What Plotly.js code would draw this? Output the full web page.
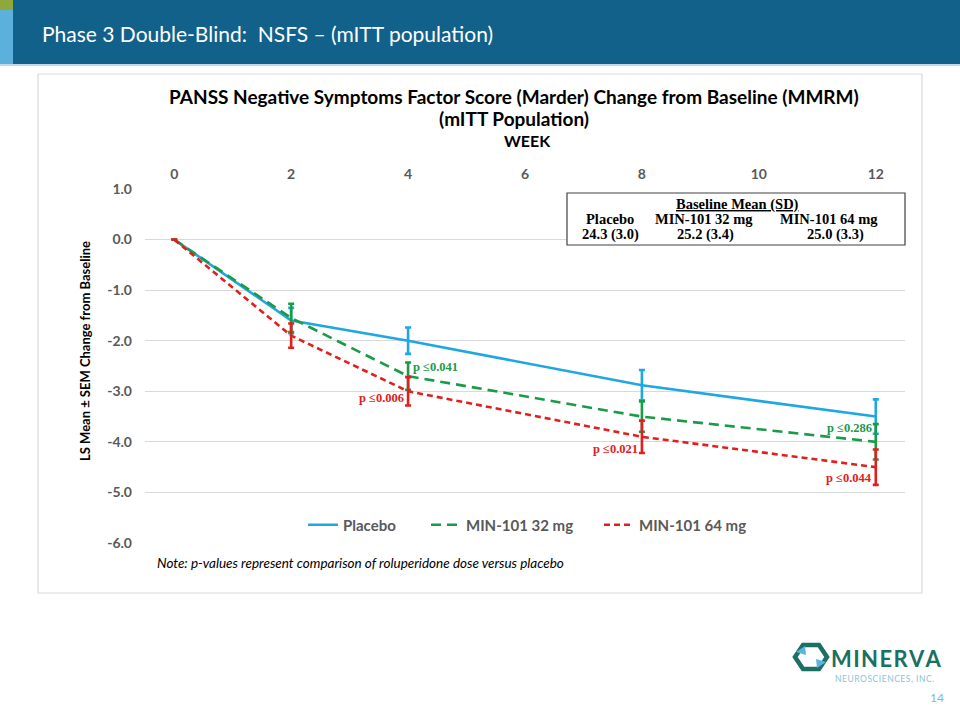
<!DOCTYPE html>
<html>
<head>
<meta charset="utf-8">
<script src="https://cdn.plot.ly/plotly-3.0.1.min.js"></script>
<style>
  html, body { margin: 0; padding: 0; background: #ffffff; }
  #chart { width: 960px; height: 720px; }
</style>
</head>
<body>
<div id="chart"></div>
<script>
// ---- data ----
const weeks = [0, 2, 4, 8, 12];
const weekTicks = [0, 2, 4, 6, 8, 10, 12];
const yTicks = [1, 0, -1, -2, -3, -4, -5, -6];
const yTickText = ["1.0", "0.0", "-1.0", "-2.0", "-3.0", "-4.0", "-5.0", "-6.0"];
const placebo = [0, -1.6, -2.0, -2.88, -3.5];
const placeboSem = [0, 0.25, 0.26, 0.3, 0.34];
const mg32 = [0, -1.55, -2.7, -3.5, -4.0];
const mg32Sem = [0, 0.28, 0.27, 0.3, 0.35];
const mg64 = [0, -1.9, -3.0, -3.9, -4.5];
const mg64Sem = [0, 0.24, 0.28, 0.32, 0.35];
const seriesNames = ["Placebo", "MIN-101 32 mg", "MIN-101 64 mg"];
const baselineGroups = ["Placebo", "MIN-101 32 mg", "MIN-101 64 mg"];
const baselineValues = ["24.3 (3.0)", "25.2 (3.4)", "25.0 (3.3)"];
const pLabels = [
  {week: 4, value: -2.51, text: "p ≤0.041", series: 1, side: "right"},
  {week: 4, value: -3.13, text: "p ≤0.006", series: 2, side: "left"},
  {week: 8, value: -4.14, text: "p ≤0.021", series: 2, side: "left"},
  {week: 12, value: -3.72, text: "p ≤0.286", series: 1, side: "left"},
  {week: 12, value: -4.71, text: "p ≤0.044", series: 2, side: "left"}
];

// ---- style ----
const colors = ["#1ea7e0", "#1a9b48", "#e1201d"];
const W = 960, H = 720;
const M = {l: 145, r: 55, t: 189, b: 177};
const PW = W - M.l - M.r, PH = H - M.t - M.b;
const px = x => (x - M.l) / PW;
const py = y => (H - M.b - y) / PH;
const sans = "Lato, 'Open Sans', sans-serif";
const serif = "'Liberation Serif', 'Times New Roman', serif";
const legendNames = ["legend", "legend2", "legend3"];
const legendX = [303, 426, 599];
const hs = "\u200A";
const spaced = s => s.split("").join(hs);

const traces = [
  {x: weeks, y: placebo, sem: placeboSem, dash: "solid"},
  {x: weeks, y: mg32, sem: mg32Sem, dash: "10px,6px"},
  {x: weeks, y: mg64, sem: mg64Sem, dash: "6px,4px"}
].map((s, i) => ({
  type: "scatter", mode: "lines",
  x: s.x, y: s.y, name: seriesNames[i], legend: legendNames[i],
  line: {color: colors[i], width: 2.6, dash: s.dash},
  error_y: {type: "data", array: s.sem, visible: true, color: colors[i], thickness: 2.6, width: 3},
  hoverinfo: "x+y"
}));

const shapes = [
  // header bar
  {type: "rect", xref: "paper", yref: "paper", x0: px(0), x1: px(960), y0: py(0), y1: py(64), fillcolor: "#12618a", line: {width: 0}, layer: "below"},
  {type: "rect", xref: "paper", yref: "paper", x0: px(0), x1: px(13), y0: py(0), y1: py(64), fillcolor: "#5cb1dc", line: {width: 0}, layer: "below"},
  {type: "rect", xref: "paper", yref: "paper", x0: px(0), x1: px(13), y0: py(0), y1: py(10), fillcolor: "#8ea83c", line: {width: 0}, layer: "below"},
  {type: "line", xref: "paper", yref: "paper", x0: px(0), x1: px(960), y0: py(65), y1: py(65), line: {color: "#a9cfe2", width: 1.5}, layer: "below"},
  // chart frame
  {type: "rect", xref: "paper", yref: "paper", x0: px(38), x1: px(922), y0: py(74), y1: py(593), fillcolor: "rgba(0,0,0,0)", line: {color: "#d9d9d9", width: 1.2}, layer: "below"},
  // baseline table box
  {type: "rect", xref: "paper", yref: "paper", x0: px(567), x1: px(905), y0: py(193), y1: py(245), fillcolor: "#ffffff", line: {color: "#404040", width: 1.2}, layer: "above"},
  // logo hexagon ring
  {type: "path", xref: "paper", yref: "paper",
   path: "M " + px(803) + "," + py(645) + " L " + px(819) + "," + py(645) + " L " + px(827) + "," + py(657) + " L " + px(819) + "," + py(669) + " L " + px(803) + "," + py(669) + " L " + px(795) + "," + py(657) + " Z",
   fillcolor: "rgba(0,0,0,0)", line: {color: "#1b6f63", width: 4.5}},
  {type: "path", xref: "paper", yref: "paper",
   path: "M " + px(796) + "," + py(652) + " L " + px(805) + "," + py(646) + " L " + px(806) + "," + py(655) + " Z",
   fillcolor: "#5ab3e0", line: {width: 0}},
  {type: "path", xref: "paper", yref: "paper",
   path: "M " + px(826) + "," + py(662) + " L " + px(817) + "," + py(668) + " L " + px(816) + "," + py(659) + " Z",
   fillcolor: "#5ab3e0", line: {width: 0}}
];

const annotations = [
  {xref: "paper", yref: "paper", x: px(40), y: py(33), xanchor: "left", yanchor: "middle", showarrow: false,
   text: "Phase 3 Double-Blind:  NSFS – (mITT population)", font: {family: sans, size: 21, color: "#ffffff"}},
  {xref: "paper", yref: "paper", x: px(514), y: py(96), xanchor: "center", yanchor: "middle", showarrow: false,
   text: "<b>PANSS Negative Symptoms Factor Score (Marder) Change from Baseline (MMRM)</b>", font: {family: sans, size: 19, color: "#000000"}},
  {xref: "paper", yref: "paper", x: px(514), y: py(119), xanchor: "center", yanchor: "middle", showarrow: false,
   text: "<b>(mITT Population)</b>", font: {family: sans, size: 19, color: "#000000"}},
  {xref: "paper", yref: "paper", x: px(527), y: py(141), xanchor: "center", yanchor: "middle", showarrow: false,
   text: "<b>WEEK</b>", font: {family: sans, size: 16, color: "#000000"}},
  {xref: "paper", yref: "paper", x: px(85), y: py(351), xanchor: "center", yanchor: "middle", showarrow: false, textangle: -90,
   text: "<b>LS Mean ± SEM Change from Baseline</b>", font: {family: sans, size: 13, color: "#000000"}},
  {xref: "paper", yref: "paper", x: px(155), y: py(563), xanchor: "left", yanchor: "middle", showarrow: false,
   text: "<i>Note: p-values represent comparison of roluperidone dose versus placebo</i>", font: {family: sans, size: 13.5, color: "#000000"}},
  // baseline table
  {xref: "paper", yref: "paper", x: px(737), y: py(204), xanchor: "center", yanchor: "middle", showarrow: false,
   text: "<b><u>Baseline Mean (SD)</u></b>", font: {family: serif, size: 14.5, color: "#000000"}},
  // logo texts
  {xref: "paper", yref: "paper", x: px(829), y: py(658), xanchor: "left", yanchor: "middle", showarrow: false,
   text: "<b>" + spaced("MINERVA") + "</b>", font: {family: sans, size: 22, color: "#1b6f63"}},
  {xref: "paper", yref: "paper", x: px(833), y: py(679), xanchor: "left", yanchor: "middle", showarrow: false,
   text: spaced("NEUROSCIENCES, INC."), font: {family: sans, size: 8.5, color: "#8cc3dc"}},
  {xref: "paper", yref: "paper", x: px(937), y: py(697), xanchor: "center", yanchor: "middle", showarrow: false,
   text: "14", font: {family: sans, size: 12, color: "#7fb8d6"}}
];
const headX = [610, 704, 829];
const valX = [610, 705, 835];
baselineGroups.forEach((g, i) => {
  annotations.push({xref: "paper", yref: "paper", x: px(headX[i]), y: py(219), xanchor: "center", yanchor: "middle", showarrow: false,
    text: "<b>" + g + "</b>", font: {family: serif, size: 14.5, color: "#000000"}});
  annotations.push({xref: "paper", yref: "paper", x: px(valX[i]), y: py(234), xanchor: "center", yanchor: "middle", showarrow: false,
    text: "<b>" + baselineValues[i] + "</b>", font: {family: serif, size: 14.5, color: "#000000"}});
});
pLabels.forEach(p => {
  annotations.push({xref: "x", yref: "y", x: p.week, y: p.value, showarrow: false,
    xanchor: p.side === "right" ? "left" : "right", xshift: p.side === "right" ? 3 : -2, yanchor: "middle",
    text: "<b>" + p.text + "</b>", font: {family: serif, size: 12.5, color: colors[p.series]}});
});

const legendBase = {orientation: "h", yanchor: "middle", xanchor: "left", y: py(525),
  bgcolor: "rgba(0,0,0,0)", font: {family: sans, size: 15, color: "#595959", weight: "bold"}, itemwidth: 30};

const layout = {
  width: W, height: H,
  margin: M,
  paper_bgcolor: "#ffffff", plot_bgcolor: "rgba(0,0,0,0)",
  showlegend: true,
  xaxis: {range: [-0.5, 12.5], side: "top", tickvals: weekTicks, ticktext: weekTicks.map(String),
          showgrid: false, zeroline: false, showline: false, ticks: "", ticklabelstandoff: 6,
          tickfont: {family: sans, size: 14, color: "#595959", weight: "bold"}, fixedrange: true},
  yaxis: {range: [-6, 1], tickvals: yTicks, ticktext: yTickText, showgrid: true, gridcolor: "#d9d9d9", gridwidth: 1,
          zeroline: false, showline: false, ticks: "", ticklabelstandoff: 12,
          tickfont: {family: sans, size: 14, color: "#595959", weight: "bold"}, fixedrange: true},
  legend: Object.assign({}, legendBase, {x: px(legendX[0])}),
  legend2: Object.assign({}, legendBase, {x: px(legendX[1])}),
  legend3: Object.assign({}, legendBase, {x: px(legendX[2])}),
  shapes: shapes,
  annotations: annotations
};

Plotly.newPlot("chart", traces, layout, {displayModeBar: false, staticPlot: true});
</script>
</body>
</html>
